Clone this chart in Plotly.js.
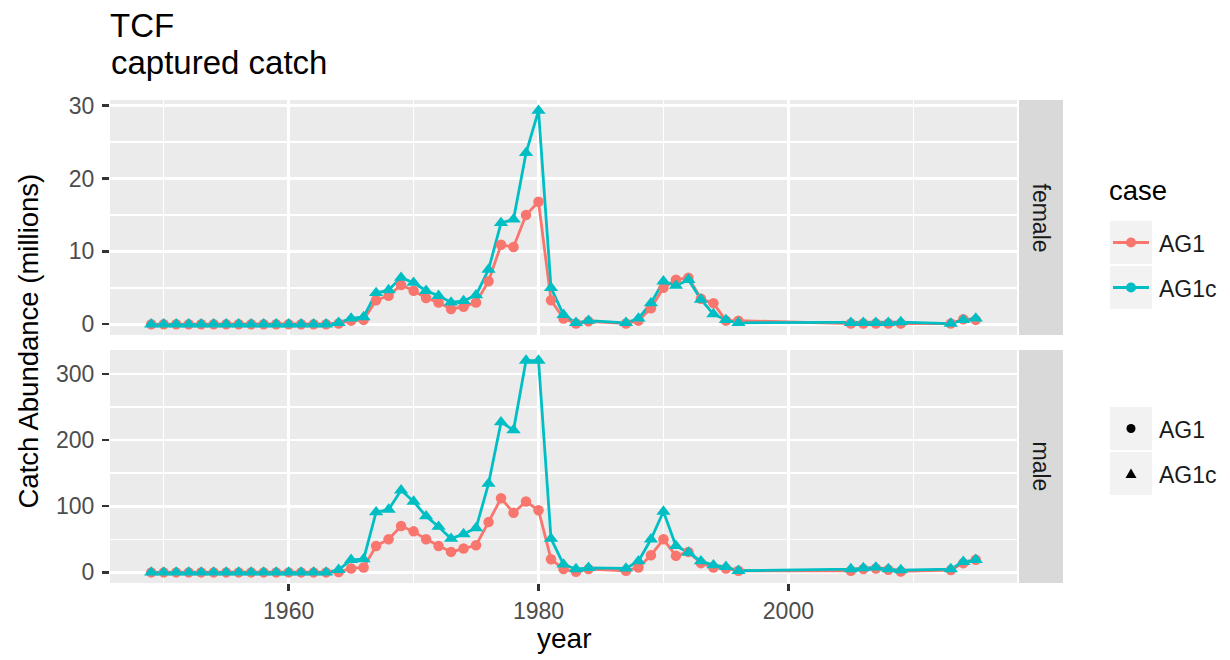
<!DOCTYPE html>
<html>
<head>
<meta charset="utf-8">
<script src="https://cdn.plot.ly/plotly-3.0.1.min.js"></script>
<style>html,body{margin:0;padding:0;background:#fff;}#chart{width:1230px;height:660px;}</style>
</head>
<body>
<div id="chart"></div>
<script>
// ---- data ----
const years = [1949,1950,1951,1952,1953,1954,1955,1956,1957,1958,1959,1960,1961,1962,1963,1964,
  1965,1966,1967,1968,1969,1970,1971,1972,1973,1974,1975,1976,1977,1978,1979,1980,1981,1982,1983,1984,
  1987,1988,1989,1990,1991,1992,1993,1994,1995,1996,
  2005,2006,2007,2008,2009,
  2013,2014,2015];
const femaleAG1 = [0,0,0,0,0,0,0,0,0,0,0,0,0,0,0,0.1,
  0.5,0.6,3.3,3.9,5.4,4.6,3.6,3.0,2.1,2.4,3.0,5.9,10.9,10.6,15.0,16.8,3.3,0.8,0.1,0.4,
  0.1,0.5,2.2,5.0,6.1,6.4,3.5,2.9,0.5,0.5,
  0.1,0.1,0.1,0.1,0.1,
  0.1,0.7,0.6];
const femaleAG1c = [0,0,0,0,0,0,0,0,0,0,0,0,0,0,0,0.2,
  0.8,1.0,4.3,4.7,6.4,5.7,4.6,3.9,3.0,3.2,4.0,7.5,13.9,14.4,23.5,29.3,5.0,1.3,0.2,0.5,
  0.2,0.8,2.9,5.9,5.3,6.1,3.4,1.4,0.6,0.2,
  0.2,0.2,0.2,0.2,0.3,
  0.1,0.6,0.8];
const maleAG1 = [0,0,0,0,0,0,0,0,0,0,0,0,0,0,0,0.5,
  6,7.5,40,50,70,62,50,40,31,36,41,76,112,90,107,94,20,5,1,5,
  2.5,7.5,26,50,25,31,14,7.5,6,2.5,
  2.5,5,6,4,1.5,
  3.5,14,19];
const maleAG1c = [0,0,0,0,0,0,0,0,0,0,0,0,0,0,0,4,
  19,20,91,95,124,107,85,69,51,58,67,134,227,215,320,320,51,12,5,7,
  6,17,50,92,40,30,17,11,8.5,2.5,
  5,6.5,7.5,5,3.5,
  5,16,19];
const cases = ["AG1","AG1c"];
const sexes = ["female","male"];
const yTicksTop = [0,10,20,30];
const yTicksBottom = [0,100,200,300];
const xTicks = [1960,1980,2000];

// ---- styling ----
const RED = "#F8766D", TEAL = "#00BFC4";
const FONT = "Liberation Sans, Arial, Helvetica, sans-serif";
const L = 110, R = 1017, T = 100, B = 583;
const px = v => (v - L) / (R - L);
const py = v => (B - v) / (B - T);

function lineTrace(y, color, xa, ya) {
  return {x: years, y: y, xaxis: xa, yaxis: ya, type: "scatter", mode: "lines",
    line: {color: color, width: 2.8}, showlegend: false, hoverinfo: "skip"};
}
function markTrace(y, color, symbol, size, xa, ya) {
  return {x: years, y: y, xaxis: xa, yaxis: ya, type: "scatter", mode: "markers",
    marker: {color: color, symbol: symbol, size: size, line: {width: 0}}, showlegend: false};
}

const data = [
  lineTrace(femaleAG1, RED, "x", "y"),
  lineTrace(femaleAG1c, TEAL, "x", "y"),
  markTrace(femaleAG1, RED, "circle", 10.5, "x", "y"),
  markTrace(femaleAG1c, TEAL, "triangle-up", 12.5, "x", "y"),
  lineTrace(maleAG1, RED, "x2", "y2"),
  lineTrace(maleAG1c, TEAL, "x2", "y2"),
  markTrace(maleAG1, RED, "circle", 10.5, "x2", "y2"),
  markTrace(maleAG1c, TEAL, "triangle-up", 12.5, "x2", "y2")
];

const gridMajor = {showgrid: true, gridcolor: "#FFFFFF", gridwidth: 2.6, zeroline: false, showline: false};
const xRange = [1945.7, 2018.3];

const layout = {
  width: 1230, height: 660,
  margin: {l: L, r: 1230 - R, t: T, b: 660 - B, pad: 0},
  paper_bgcolor: "#FFFFFF", plot_bgcolor: "#EBEBEB",
  font: {family: FONT, color: "#000000"},
  showlegend: false,
  title: {text: "TCF", x: 0, xref: "paper", xanchor: "left", y: 1 - 25 / 660, yref: "container", yanchor: "middle",
    font: {family: FONT, size: 33, color: "#000000"}},
  xaxis: Object.assign({}, gridMajor, {domain: [0, 1], anchor: "y", range: xRange, tick0: 1960, dtick: 20,
    showticklabels: false, ticks: "", minor: {tick0: 1950, dtick: 10, showgrid: true, gridcolor: "#FFFFFF", gridwidth: 1.4}}),
  yaxis: Object.assign({}, gridMajor, {domain: [py(335), 1], anchor: "x", range: [-1.47, 30.77], tickvals: yTicksTop,
    ticks: "outside", ticklen: 7, tickwidth: 2.4, tickcolor: "#333333", ticklabelstandoff: 3,
    tickfont: {family: FONT, size: 23, color: "#4D4D4D"},
    minor: {tickvals: [5, 15, 25], showgrid: true, gridcolor: "#FFFFFF", gridwidth: 1.4}}),
  xaxis2: Object.assign({}, gridMajor, {domain: [0, 1], anchor: "y2", matches: "x", range: xRange, tickvals: xTicks,
    ticks: "outside", ticklen: 7, tickwidth: 2.4, tickcolor: "#333333", ticklabelstandoff: 0,
    tickfont: {family: FONT, size: 23, color: "#4D4D4D"},
    minor: {tick0: 1950, dtick: 10, showgrid: true, gridcolor: "#FFFFFF", gridwidth: 1.4}}),
  yaxis2: Object.assign({}, gridMajor, {domain: [0, py(350)], anchor: "x2", range: [-16, 336], tickvals: yTicksBottom,
    ticks: "outside", ticklen: 7, tickwidth: 2.4, tickcolor: "#333333", ticklabelstandoff: 3,
    tickfont: {family: FONT, size: 23, color: "#4D4D4D"},
    minor: {tickvals: [50, 150, 250], showgrid: true, gridcolor: "#FFFFFF", gridwidth: 1.4}}),
  shapes: [],
  annotations: []
};

const P = {xref: "paper", yref: "paper"};
// facet strips
layout.shapes.push(Object.assign({type: "rect", x0: px(1019), x1: px(1063), y0: py(335), y1: py(100),
  fillcolor: "#D9D9D9", line: {width: 0}, layer: "below"}, P));
layout.shapes.push(Object.assign({type: "rect", x0: px(1019), x1: px(1063), y0: py(583), y1: py(350),
  fillcolor: "#D9D9D9", line: {width: 0}, layer: "below"}, P));
const stripY = [217.5, 466.5];
sexes.forEach((s, i) => layout.annotations.push(Object.assign({x: px(1041), y: py(stripY[i]), text: s, textangle: 90,
  showarrow: false, xanchor: "center", yanchor: "middle", font: {family: FONT, size: 23, color: "#1A1A1A"}}, P)));

// legend keys (colour legend)
const keyTops1 = [221, 266], keyTops2 = [407, 452];
const colors = [RED, TEAL];
keyTops1.concat(keyTops2).forEach(t => layout.shapes.push(Object.assign({type: "rect", x0: px(1110), x1: px(1152),
  y0: py(t + 43), y1: py(t), fillcolor: "#F2F2F2", line: {width: 0}}, P)));
cases.forEach((c, i) => {
  const cy = keyTops1[i] + 21.5;
  layout.shapes.push(Object.assign({type: "line", x0: px(1113), x1: px(1149), y0: py(cy), y1: py(cy),
    line: {color: colors[i], width: 2.8}}, P));
  layout.shapes.push(Object.assign({type: "circle", x0: px(1126), x1: px(1136), y0: py(cy + 5), y1: py(cy - 5),
    fillcolor: colors[i], line: {width: 0}}, P));
  layout.annotations.push(Object.assign({x: px(1157), y: py(cy + 1), text: c, showarrow: false, xanchor: "left",
    yanchor: "middle", font: {family: FONT, size: 23, color: "#1A1A1A"}}, P));
});
// shape legend
{
  const cy0 = keyTops2[0] + 21.5, cy1 = keyTops2[1] + 21.5;
  layout.shapes.push(Object.assign({type: "circle", x0: px(1126.5), x1: px(1135.5), y0: py(cy0 + 4.5), y1: py(cy0 - 4.5),
    fillcolor: "#000000", line: {width: 0}}, P));
  layout.shapes.push(Object.assign({type: "path",
    path: `M ${px(1125.5)} ${py(cy1 + 4.5)} L ${px(1136.5)} ${py(cy1 + 4.5)} L ${px(1131)} ${py(cy1 - 5)} Z`,
    fillcolor: "#000000", line: {width: 0}}, P));
  [cy0, cy1].forEach((cy, i) => layout.annotations.push(Object.assign({x: px(1157), y: py(cy + 1), text: cases[i],
    showarrow: false, xanchor: "left", yanchor: "middle", font: {family: FONT, size: 23, color: "#1A1A1A"}}, P)));
}
layout.annotations.push(Object.assign({x: px(1107), y: py(190), text: "case", showarrow: false, xanchor: "left",
  yanchor: "middle", font: {family: FONT, size: 27.5, color: "#000000"}}, P));

// subtitle, axis titles
layout.annotations.push(Object.assign({x: px(109), y: py(62), text: "captured catch", showarrow: false, xanchor: "left",
  yanchor: "middle", font: {family: FONT, size: 33, color: "#000000"}}, P));
layout.annotations.push(Object.assign({x: px(28), y: py(341.5), text: "Catch Abundance (millions)", textangle: -90,
  showarrow: false, xanchor: "center", yanchor: "middle", font: {family: FONT, size: 27.5, color: "#000000"}}, P));
layout.annotations.push(Object.assign({x: px(563.5), y: py(638), text: "year", showarrow: false, xanchor: "center",
  yanchor: "middle", font: {family: FONT, size: 28, color: "#000000"}}, P));

Plotly.newPlot("chart", data, layout, {displayModeBar: false, staticPlot: true});
</script>
</body>
</html>
